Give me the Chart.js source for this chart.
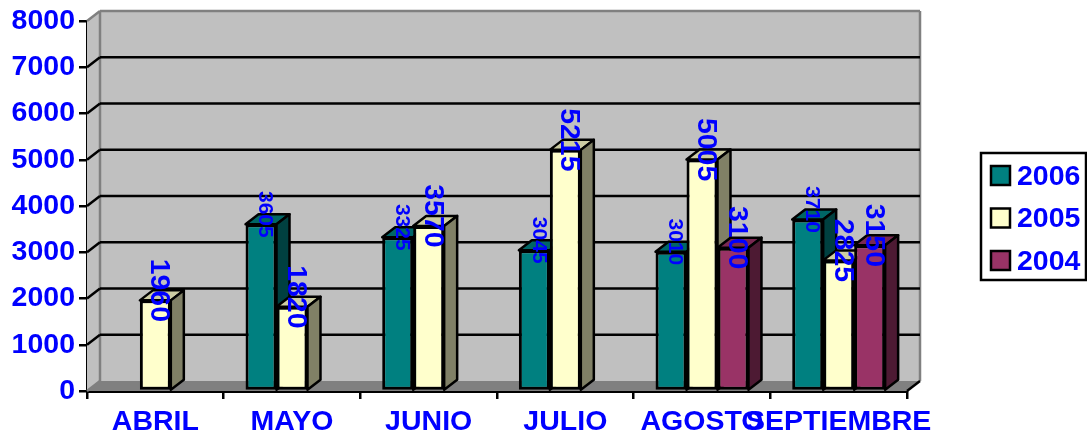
<!DOCTYPE html>
<html>
<head>
<meta charset="utf-8">
<style>
  html, body { margin: 0; padding: 0; background: #fff; }
  canvas { display: block; }
</style>
<script src="https://cdn.jsdelivr.net/npm/chart.js@4/dist/chart.umd.min.js"></script>
</head>
<body>
<canvas id="grafica" width="1087" height="436"></canvas>
<script>
const meses = ['ABRIL', 'MAYO', 'JUNIO', 'JULIO', 'AGOSTO', 'SEPTIEMBRE'];
const serie2006 = [null, 3605, 3325, 3045, 3010, 3710];
const serie2005 = [1960, 1820, 3570, 5215, 5005, 2825];
const serie2004 = [null, null, null, null, 3100, 3150];

const AZUL = '#0000FF';
const FUENTE = 'Liberation Sans';
const PROF_X = 13;
const PROF_Y = 10;
const TRAZO = 2.5;

function cara(ctx, puntos, relleno, borde, grosor) {
    ctx.beginPath();
    puntos.forEach((p, i) => i === 0 ? ctx.moveTo(p[0], p[1]) : ctx.lineTo(p[0], p[1]));
    ctx.closePath();
    if (relleno) {
        ctx.fillStyle = relleno;
        ctx.fill();
    }
    if (borde) {
        ctx.strokeStyle = borde;
        ctx.lineWidth = grosor;
        ctx.stroke();
    }
}

function linea(ctx, x1, y1, x2, y2, color, grosor) {
    ctx.beginPath();
    ctx.moveTo(x1, y1);
    ctx.lineTo(x2, y2);
    ctx.strokeStyle = color;
    ctx.lineWidth = grosor;
    ctx.stroke();
}

// paredes, piso y lineas de division
const paredes = {
    id: 'paredes',
    beforeDatasetsDraw(chart) {
        const { ctx, chartArea: a, scales: { y } } = chart;
        ctx.save();
        cara(ctx, [[a.left, a.top], [a.left + PROF_X, a.top - PROF_Y], [a.left + PROF_X, a.bottom - PROF_Y], [a.left, a.bottom]], '#C0C0C0');
        ctx.fillStyle = '#C0C0C0';
        ctx.fillRect(a.left + PROF_X, a.top - PROF_Y, a.width, a.height);
        cara(ctx, [[a.left, a.bottom], [a.left + PROF_X, a.bottom - PROF_Y], [a.right + PROF_X, a.bottom - PROF_Y], [a.right, a.bottom]], '#808080');
        linea(ctx, a.left + PROF_X, a.top - PROF_Y, a.right + PROF_X, a.top - PROF_Y, '#808080', TRAZO);
        linea(ctx, a.left + PROF_X, a.top - PROF_Y, a.left + PROF_X, a.bottom - PROF_Y, '#808080', TRAZO);
        linea(ctx, a.right + PROF_X, a.top - PROF_Y, a.right + PROF_X, a.bottom - PROF_Y, '#808080', TRAZO);
        linea(ctx, a.left, a.top, a.left + PROF_X, a.top - PROF_Y, '#808080', TRAZO);
        linea(ctx, a.left, a.bottom, a.left + PROF_X, a.bottom - PROF_Y, '#808080', TRAZO);
        y.ticks.forEach(t => {
            if (t.value === y.min || t.value === y.max) return;
            const py = y.getPixelForValue(t.value);
            linea(ctx, a.left, py, a.left + PROF_X, py - PROF_Y, '#000', TRAZO);
            linea(ctx, a.left + PROF_X, py - PROF_Y, a.right + PROF_X, py - PROF_Y, '#000', TRAZO);
        });
        linea(ctx, a.right, a.bottom, a.right + PROF_X, a.bottom - PROF_Y, '#000', TRAZO);
        ctx.restore();
    }
};

// barras de izquierda a derecha: tapa y lateral primero, luego el frente
const barras3d = {
    id: 'barras3d',
    beforeDatasetsDraw(chart) {
        const { ctx } = chart;
        ctx.save();
        ctx.lineJoin = 'round';
        chart.data.datasets.forEach((ds, d) => {
            chart.getDatasetMeta(d).data.forEach((barra, i) => {
                if (ds.data[i] === null) return;
                const izq = barra.x - barra.width / 2;
                const der = barra.x + barra.width / 2;
                const arriba = barra.y;
                const abajo = barra.base;
                cara(ctx, [[izq, arriba], [izq + PROF_X, arriba - PROF_Y], [der + PROF_X, arriba - PROF_Y], [der, arriba]], ds.colorTapa, '#000', TRAZO);
                cara(ctx, [[der, arriba], [der + PROF_X, arriba - PROF_Y], [der + PROF_X, abajo - PROF_Y], [der, abajo]], ds.colorLado, '#000', TRAZO);
                barra.draw(ctx);
            });
        });
        ctx.restore();
    },
    // ya dibujadas arriba, en el orden correcto
    beforeDatasetDraw() {
        return false;
    }
};

// valores girados sobre cada barra
const etiquetas = {
    id: 'etiquetas',
    afterDatasetsDraw(chart) {
        const { ctx } = chart;
        chart.data.datasets.forEach((ds, d) => {
            chart.getDatasetMeta(d).data.forEach((barra, i) => {
                if (ds.data[i] === null) return;
                ctx.save();
                ctx.translate(barra.x + 4, barra.y - 10);
                ctx.rotate(Math.PI / 2);
                ctx.font = `bold ${ds.tamEtiqueta}px "${FUENTE}"`;
                ctx.fillStyle = AZUL;
                ctx.textAlign = 'center';
                ctx.textBaseline = 'middle';
                ctx.fillText(String(ds.data[i]), 0, 0);
                ctx.restore();
            });
        });
    }
};

// leyenda con marco, a la derecha del grafico
const leyenda = {
    id: 'leyenda',
    afterDraw(chart) {
        const { ctx } = chart;
        ctx.save();
        ctx.fillStyle = '#fff';
        ctx.fillRect(981, 153, 106, 127);
        ctx.strokeStyle = '#000';
        ctx.lineWidth = TRAZO;
        ctx.strokeRect(981, 153, 105, 127);
        ctx.font = `bold 28.5px "${FUENTE}"`;
        ctx.textBaseline = 'middle';
        chart.data.datasets.forEach((ds, i) => {
            const cy = 176 + i * 42.5;
            ctx.fillStyle = ds.backgroundColor;
            ctx.fillRect(991, cy - 10, 19, 19);
            ctx.strokeStyle = '#000';
            ctx.strokeRect(991, cy - 10, 19, 19);
            ctx.fillStyle = AZUL;
            ctx.fillText(ds.label, 1017, cy + 1);
        });
        ctx.restore();
    }
};

const ctx = document.getElementById('grafica').getContext('2d');

new Chart(ctx, {
    type: 'bar',
    data: {
        labels: meses,
        datasets: [
            { label: '2006', data: serie2006, backgroundColor: '#008080', colorTapa: '#006666', colorLado: '#004040', tamEtiqueta: 21 },
            { label: '2005', data: serie2005, backgroundColor: '#FFFFCC', colorTapa: '#CCCCA3', colorLado: '#808066', tamEtiqueta: 28.5 },
            { label: '2004', data: serie2004, backgroundColor: '#993366', colorTapa: '#7A2952', colorLado: '#4D1A33', tamEtiqueta: 28.5 }
        ]
    },
    options: {
        responsive: false,
        animation: false,
        layout: { padding: { top: 21, right: 180, bottom: 0, left: 0 } },
        datasets: {
            bar: {
                borderColor: '#000',
                borderWidth: 3,
                borderSkipped: false,
                barPercentage: 1,
                categoryPercentage: 0.68
            }
        },
        plugins: {
            legend: { display: false },
            tooltip: { enabled: false }
        },
        scales: {
            x: {
                afterFit(scale) {
                    scale.height = 45;
                    scale.paddingLeft = 0;
                    scale.paddingRight = 0;
                },
                border: { color: '#000', width: 3 },
                grid: { drawOnChartArea: false, color: '#000', lineWidth: 2.5, tickLength: 8 },
                ticks: {
                    autoSkip: false,
                    maxRotation: 0,
                    minRotation: 0,
                    padding: 6,
                    color: AZUL,
                    font: { family: FUENTE, size: 28.5, weight: 'bold' }
                }
            },
            y: {
                min: 0,
                max: 8000,
                afterFit(scale) {
                    scale.width = 87;
                },
                border: { color: '#000', width: 3 },
                grid: { drawOnChartArea: false, color: '#000', lineWidth: 2.5, tickLength: 8 },
                ticks: {
                    stepSize: 1000,
                    padding: 4,
                    color: AZUL,
                    font: { family: FUENTE, size: 28.5, weight: 'bold' },
                    callback: v => String(v)
                }
            }
        }
    },
    plugins: [paredes, barras3d, etiquetas, leyenda]
});
</script>
</body>
</html>
